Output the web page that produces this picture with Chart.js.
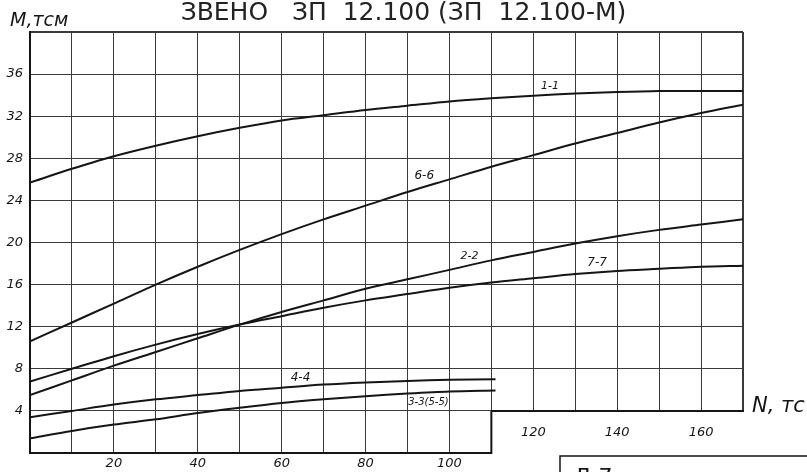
<!DOCTYPE html>
<html lang="ru">
<head>
<meta charset="UTF-8">
<title>Звено ЗП 12.100</title>
<script src="https://cdn.jsdelivr.net/npm/chart.js"></script>
<style>
  html, body { margin: 0; padding: 0; background: #fff; }
  #wrap { width: 807px; height: 472px; }
</style>
</head>
<body>
<div id="wrap"><canvas id="chart" width="807" height="472"></canvas></div>
<script>
// N, тс (x) and M, тсм (y)
const nLong  = [0, 10, 20, 30, 40, 50, 60, 70, 80, 90, 100, 110, 120, 130, 140, 150, 160, 170];
const nShort = [0, 10, 20, 30, 40, 50, 60, 70, 80, 90, 100, 111];

const m11 = [25.7, 27.0, 28.2, 29.2, 30.1, 30.9, 31.6, 32.1, 32.6, 33.0, 33.4, 33.7, 33.95, 34.15, 34.3, 34.4, 34.4, 34.4];
const m66 = [10.6, 12.4, 14.2, 16.0, 17.7, 19.3, 20.8, 22.2, 23.5, 24.8, 26.0, 27.2, 28.3, 29.4, 30.4, 31.4, 32.3, 33.1];
const m22 = [5.5, 6.9, 8.3, 9.6, 10.9, 12.2, 13.4, 14.5, 15.6, 16.5, 17.4, 18.3, 19.1, 19.9, 20.6, 21.2, 21.7, 22.2];
const m77 = [6.8, 8.0, 9.2, 10.3, 11.3, 12.2, 13.0, 13.8, 14.5, 15.1, 15.7, 16.2, 16.6, 17.0, 17.3, 17.5, 17.7, 17.8];
const m44 = [3.4, 4.0, 4.6, 5.1, 5.5, 5.9, 6.2, 6.5, 6.7, 6.85, 6.95, 7.0];
const m33 = [1.4, 2.1, 2.7, 3.2, 3.8, 4.3, 4.75, 5.1, 5.4, 5.65, 5.85, 5.95];

const yTickLabels = [4, 8, 12, 16, 20, 24, 28, 32, 36];
const xTickLabelsLow = [20, 40, 60, 80, 100];
const xTickLabelsHigh = [120, 140, 160];

// curve captions, anchored in data units
const curveLabels = [
  { text: '1-1', n: 124, m: 34.9, size: 11 },
  { text: '6-6', n: 94, m: 26.3, size: 12 },
  { text: '2-2', n: 104.8, m: 18.7, size: 11 },
  { text: '7-7', n: 135.2, m: 18.1, size: 12 },
  { text: '4-4', n: 64.5, m: 7.1, size: 12 },
  { text: '3-3(5-5)', n: 95, m: 4.8, size: 10 }
];

const INK = '#151515';
const GRID = '#3a3a3a';
const FONT = '"DejaVu Sans", "Liberation Sans", sans-serif';

function pts(xs, ys) {
  return xs.map((v, i) => ({ x: v, y: ys[i] }));
}

function curve(label, xs, ys) {
  return {
    label: label,
    data: pts(xs, ys),
    borderColor: INK,
    borderWidth: 2,
    pointRadius: 0,
    fill: false,
    tension: 0.3
  };
}

const sheetPlugin = {
  id: 'sheet',
  beforeDatasetsDraw(chart) {
    const { ctx, scales: { x, y } } = chart;
    const cx = x.getPixelForValue(110);
    const cy = y.getPixelForValue(4);
    const right = x.getPixelForValue(170);
    const bottom = y.getPixelForValue(0);
    ctx.save();
    // lower right part of the grid is cut away on the drawing
    ctx.fillStyle = '#fff';
    ctx.fillRect(Math.round(cx) + 1, Math.round(cy) + 1, chart.width, chart.height);
    ctx.strokeStyle = INK;
    ctx.lineWidth = 2;
    ctx.beginPath();
    ctx.moveTo(right + 1, cy);
    ctx.lineTo(cx, cy);
    ctx.moveTo(cx, cy);
    ctx.lineTo(cx, bottom + 1);
    ctx.stroke();
    ctx.restore();
  },
  afterDraw(chart) {
    const { ctx, scales: { x, y } } = chart;
    ctx.save();
    ctx.fillStyle = INK;
    ctx.textAlign = 'center';
    ctx.textBaseline = 'middle';
    curveLabels.forEach(l => {
      ctx.font = 'italic ' + l.size + 'px ' + FONT;
      ctx.fillText(l.text, x.getPixelForValue(l.n), y.getPixelForValue(l.m));
    });

    // axis names
    ctx.textAlign = 'left';
    ctx.textBaseline = 'alphabetic';
    ctx.font = 'italic 19px ' + FONT;
    ctx.fillText('М,тсм', 10, 26);
    ctx.font = 'italic 21px ' + FONT;
    ctx.fillText('N, тс', x.right + 9, y.getPixelForValue(4) + 1);

    // title block stub at the bottom
    ctx.strokeStyle = INK;
    ctx.lineWidth = 1.5;
    ctx.beginPath();
    ctx.moveTo(chart.width + 2, 456);
    ctx.lineTo(560, 456);
    ctx.lineTo(560, chart.height + 2);
    ctx.stroke();
    ctx.font = '22px ' + FONT;
    ctx.fillText('Л-7', 574, 484);
    ctx.restore();
  }
};

const tickFont = { family: FONT, size: 13, style: 'italic' };

new Chart(document.getElementById('chart'), {
  type: 'line',
  data: {
    datasets: [
      curve('1-1', nLong, m11),
      curve('6-6', nLong, m66),
      curve('2-2', nLong, m22),
      curve('7-7', nLong, m77),
      curve('4-4', nShort, m44),
      curve('3-3(5-5)', nShort, m33)
    ]
  },
  options: {
    responsive: false,
    animation: false,
    layout: { padding: 0 },
    plugins: {
      legend: { display: false },
      tooltip: { enabled: false },
      title: {
        display: true,
        text: 'ЗВЕНО   ЗП  12.100 (ЗП  12.100-М)',
        color: '#222',
        font: { family: FONT, size: 25, weight: 'normal', lineHeight: 1.1 },
        padding: { top: 0, bottom: 4.5 }
      }
    },
    scales: {
      x: {
        type: 'linear',
        position: 'bottom',
        min: 0,
        max: 170,
        grid: {
          color: GRID,
          lineWidth: c => (c.tick && c.tick.value === 170 ? 2 : 1),
          drawTicks: false
        },
        border: { color: INK, width: 2 },
        ticks: {
          stepSize: 10,
          autoSkip: false,
          maxRotation: 0,
          padding: 3,
          color: INK,
          font: tickFont,
          callback: v => (xTickLabelsLow.includes(v) ? String(v) : '')
        },
        afterFit: s => { s.height = 19; }
      },
      x2: {
        type: 'linear',
        axis: 'x',
        position: { y: 4 },
        min: 0,
        max: 170,
        grid: { display: false },
        border: { display: false },
        ticks: {
          stepSize: 10,
          autoSkip: false,
          maxRotation: 0,
          padding: 6,
          z: 1,
          color: INK,
          font: tickFont,
          callback: v => (xTickLabelsHigh.includes(v) ? String(v) : '')
        }
      },
      y: {
        type: 'linear',
        min: 0,
        max: 40,
        grid: {
          color: GRID,
          lineWidth: c => (c.tick && c.tick.value === 40 ? 2 : 1),
          drawTicks: false
        },
        border: { color: INK, width: 2 },
        ticks: {
          stepSize: 4,
          padding: 7,
          color: INK,
          font: tickFont,
          callback: v => (yTickLabels.includes(v) ? String(v) : '')
        },
        afterFit: s => { s.width = 30; }
      },
      // empty right margin for the N, тс caption
      yMargin: {
        type: 'linear',
        axis: 'y',
        position: 'right',
        min: 0,
        max: 40,
        grid: { display: false },
        border: { display: false },
        ticks: { display: false },
        afterFit: s => { s.width = 64; }
      }
    }
  },
  plugins: [sheetPlugin]
});
</script>
</body>
</html>
